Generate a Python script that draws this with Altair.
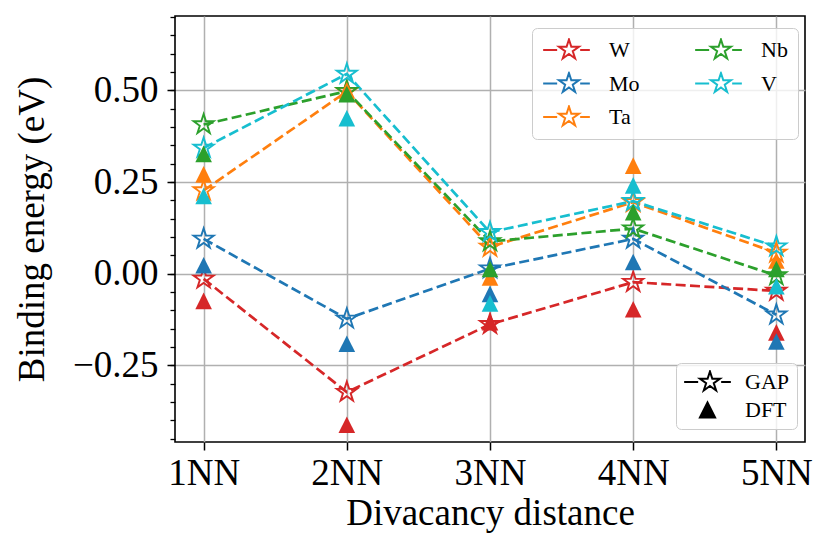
import math
import altair as alt
import pandas as pd

# ---------------- data ----------------
distances = ["1NN", "2NN", "3NN", "4NN", "5NN"]
elements = ["W", "Mo", "Ta", "Nb", "V"]
colors = ["#d62728", "#1f77b4", "#ff7f0e", "#2ca02c", "#17becf"]

gap_W = [-0.014, -0.323, -0.138, -0.023, -0.047]
gap_Mo = [0.095, -0.123, 0.014, 0.095, -0.112]
gap_Ta = [0.227, 0.497, 0.073, 0.195, 0.057]
gap_Nb = [0.407, 0.498, 0.088, 0.123, -0.005]
gap_V = [0.343, 0.545, 0.113, 0.198, 0.074]

dft_W = [-0.074, -0.412, -0.132, -0.097, -0.160]
dft_Mo = [0.023, -0.191, -0.055, 0.032, -0.185]
dft_Ta = [0.271, 0.500, -0.010, 0.295, 0.036]
dft_Nb = [0.327, 0.490, 0.013, 0.168, 0.013]
dft_V = [0.212, 0.424, -0.081, 0.241, -0.034]

y_major = [-0.25, 0.0, 0.25, 0.5]
y_minor = [round(-0.45 + 0.05 * i, 2) for i in range(24)]
kinds = ["GAP", "DFT"]

gap = {"W": gap_W, "Mo": gap_Mo, "Ta": gap_Ta, "Nb": gap_Nb, "V": gap_V}
dft = {"W": dft_W, "Mo": dft_Mo, "Ta": dft_Ta, "Nb": dft_Nb, "V": dft_V}

rows = []
for el in elements:
    for i, d in enumerate(distances):
        rows.append({"pos": i + 1, "dist": d, "element": el,
                     "gap": gap[el][i], "dft": dft[el][i]})
df = pd.DataFrame(rows)
legend_df = pd.DataFrame({"kind": kinds, "pos": [100, 100], "gap": [0.0, 0.0]})

# ---------------- symbol paths ----------------
def star_path(cx, R, ratio=0.381966):
    pts = []
    for k in range(10):
        ang = math.radians(90 + 36 * k)
        rad = R if k % 2 == 0 else R * ratio
        pts.append((cx + rad * math.cos(ang), -rad * math.sin(ang)))
    return "M" + "L".join(f"{x:.4f},{y:.4f}" for x, y in pts) + "Z"

STAR = star_path(0, 1)
TRI = "M0,-1L1,1L-1,1Z"
H = 23.35  # legend handle half width (px)
LEG_STAR = (f"M-1,0L{(14 - H) / H:.3f},0M{(37 - H) / H:.3f},0L1,0"
            + star_path((25.8 - H) / H, 10.5 / H))
t = 7.6 / H
LEG_TRI = f"M0,{-t:.3f}L{t:.3f},{t:.3f}L{-t:.3f},{t:.3f}Z"
LEG_SIZE = (2 * H) ** 2

FONT = "Liberation Serif"

x_enc = alt.X("pos:Q", scale=alt.Scale(domain=[0.8, 5.2], nice=False, zero=False),
              axis=alt.Axis(values=[1, 2, 3, 4, 5],
                            labelExpr=f"{distances}[round(datum.value)-1]",
                            labelFont=FONT, labelFontSize=37, labelColor="black",
                            labelBaseline="alphabetic", labelPadding=34,
                            tickSize=8, tickWidth=1.5, tickColor="black",
                            grid=True, gridColor="#b0b0b0", gridWidth=1.5,
                            domain=False, labelOverlap=False,
                            title="Divacancy distance", titleFont=FONT,
                            titleFontSize=37, titleFontWeight="normal",
                            titleColor="black", titleY=82,
                            titleBaseline="alphabetic"))
y_scale = alt.Scale(domain=[-0.459, 0.703], nice=False, zero=False)
color_scale = alt.Scale(domain=elements, range=colors)

base = alt.Chart(df)

lines = base.mark_line(strokeDash=[10, 4.4], strokeWidth=2.7).encode(
    x=x_enc,
    y=alt.Y("gap:Q", scale=y_scale,
            axis=alt.Axis(orient="left", values=y_major, format=".2f",
                          labelFont=FONT, labelFontSize=37, labelColor="black",
                          labelPadding=9, tickSize=8, tickWidth=1.5,
                          tickColor="black", grid=True, gridColor="#b0b0b0",
                          gridWidth=1.5, domain=False,
                          title="Binding energy (eV)", titleFont=FONT,
                          titleFontSize=37, titleFontWeight="normal",
                          titleColor="black", titleAngle=270, titleX=-132,
                          titleY=213, titleAlign="center",
                          titleBaseline="alphabetic")),
    color=alt.Color("element:N", scale=color_scale, legend=None),
    detail="element:N",
)

stars = base.mark_point(shape=STAR, size=441, strokeWidth=1.9, filled=False,
                        opacity=1).encode(
    x=x_enc,
    y=alt.Y("gap:Q", scale=y_scale,
            axis=alt.Axis(orient="left", values=y_minor, labels=False,
                          tickSize=5, tickWidth=1.3, tickColor="black",
                          grid=False, domain=False, title=None)),
    color=alt.Color("element:N", scale=color_scale,
                    legend=alt.Legend(orient="none", legendX=357, legendY=12,
                                      columns=2, title=None,
                                      symbolType=LEG_STAR, symbolSize=LEG_SIZE,
                                      symbolStrokeWidth=2,
                                      symbolFillColor="transparent",
                                      labelFont=FONT, labelFontSize=22,
                                      labelColor="black", labelOffset=18,
                                      columnPadding=54, rowPadding=9.5,
                                      clipHeight=24, padding=10,
                                      fillColor="rgba(255,255,255,0.8)",
                                      strokeColor="#cccccc", cornerRadius=5)),
)

tris = base.mark_point(shape=TRI, size=276, filled=True, opacity=1).encode(
    x=x_enc,
    y=alt.Y("dft:Q", scale=y_scale, axis=None),
    color=alt.Color("element:N", scale=color_scale, legend=None),
)

leg2_kw = dict(orient="none", legendX=501, legendY=347, title=None,
               symbolSize=LEG_SIZE, symbolStrokeColor="black",
               symbolStrokeWidth=2, labelFont=FONT, labelFontSize=22,
               labelColor="black", labelOffset=13, rowPadding=4,
               clipHeight=24, padding=7,
               fillColor="rgba(255,255,255,0.8)", strokeColor="#cccccc",
               cornerRadius=5)

dummy = alt.Chart(legend_df).mark_point(clip=True, filled=True, opacity=1,
                                        strokeWidth=2).encode(
    x=x_enc,
    y=alt.Y("gap:Q", scale=y_scale, axis=None),
    shape=alt.Shape("kind:N", scale=alt.Scale(domain=kinds,
                                              range=[LEG_STAR, LEG_TRI]),
                    legend=alt.Legend(**leg2_kw)),
    fill=alt.Fill("kind:N", scale=alt.Scale(domain=kinds,
                                            range=["transparent", "black"]),
                  legend=alt.Legend(**leg2_kw)),
    stroke=alt.Stroke("kind:N", scale=alt.Scale(domain=kinds,
                                                range=["black", "black"]),
                      legend=alt.Legend(**leg2_kw)),
)

chart = alt.layer(lines, stars, tris, dummy).resolve_axis(
    y="independent"
).resolve_legend(
    color="independent"
).properties(
    width=630, height=426,
    padding={"left": 167, "top": 8, "right": 19, "bottom": 103},
    autosize=alt.AutoSizeParams(type="none"),
).configure(font=FONT).configure_view(stroke="black", strokeWidth=1.6)

chart.save("out.html", embed_options={"renderer": "svg", "actions": False})
